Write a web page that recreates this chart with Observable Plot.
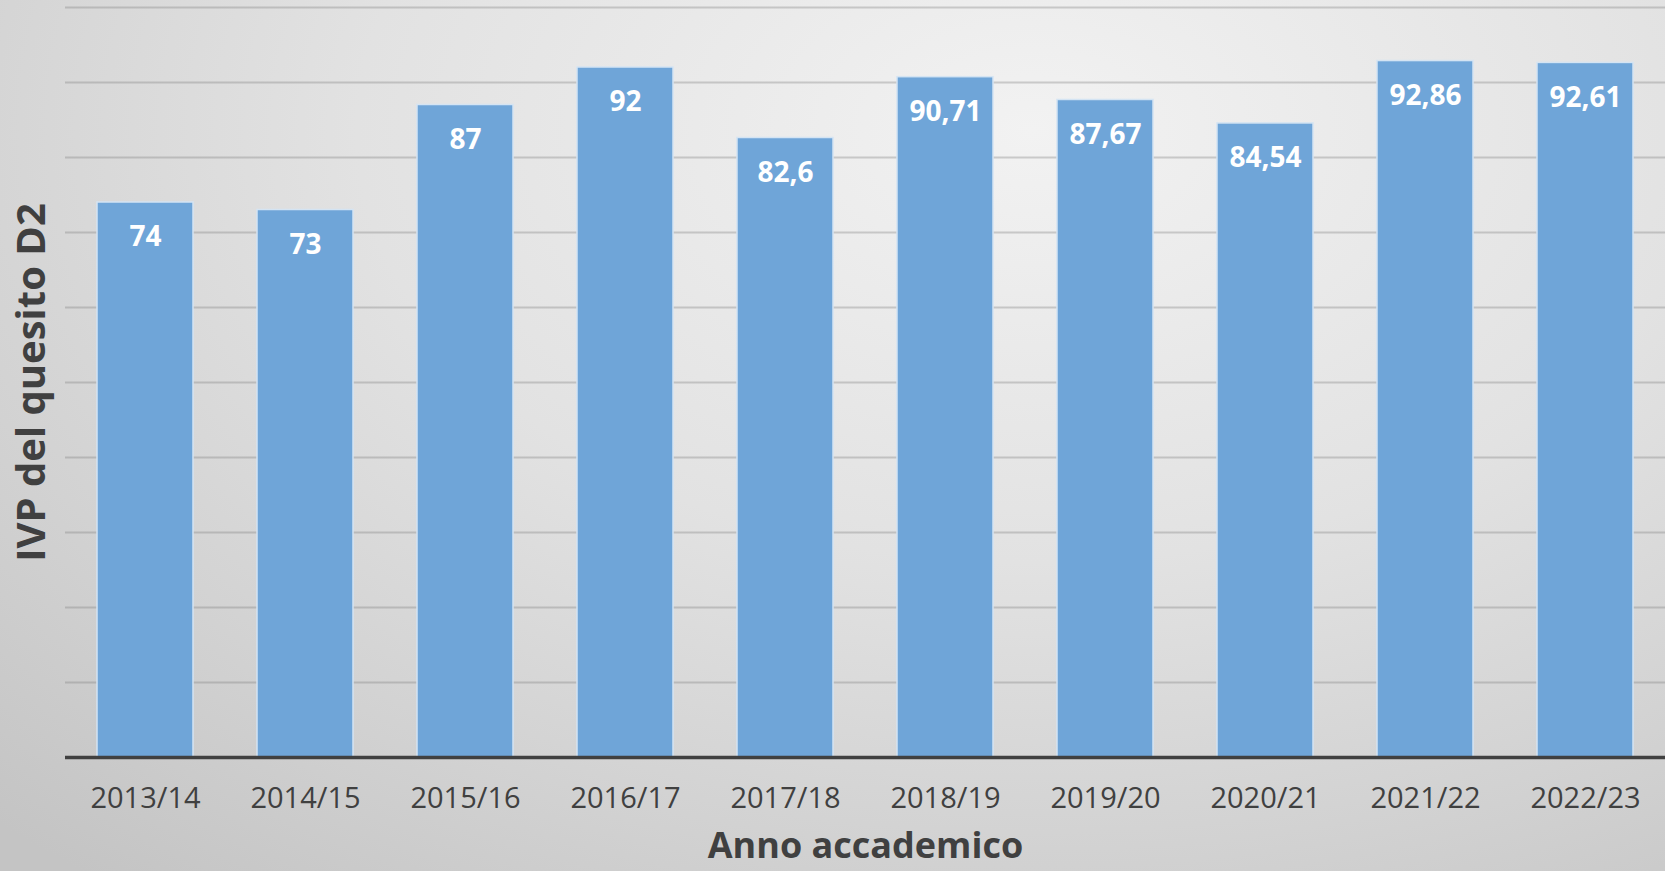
<!DOCTYPE html>
<html>
<head>
<meta charset="utf-8">
<script src="https://cdn.jsdelivr.net/npm/d3@7"></script>
<script src="https://cdn.jsdelivr.net/npm/@observablehq/plot@0.6"></script>
<style>
  html, body { margin: 0; padding: 0; }
  body {
    width: 1665px; height: 871px; overflow: hidden;
    background: radial-gradient(ellipse 90% 110% at 62% 15%, #f2f2f2 0%, #e2e2e2 45%, #d2d2d2 75%, #c4c4c4 100%);
    font-family: "Open Sans", sans-serif;
  }
  #chart svg { display: block; background: transparent; }
</style>
</head>
<body>
<div id="chart"></div>
<script>
const years = ["2013/14","2014/15","2015/16","2016/17","2017/18","2018/19","2019/20","2020/21","2021/22","2022/23"];
const values = [74, 73, 87, 92, 82.6, 90.71, 87.67, 84.54, 92.86, 92.61];
const valueLabels = ["74","73","87","92","82,6","90,71","87,67","84,54","92,86","92,61"];
const gridTicks = [10, 20, 30, 40, 50, 60, 70, 80, 90, 100];
const yTitle = "IVP del quesito D2";
const xTitle = "Anno accademico";

const data = years.map((y, i) => ({year: y, value: values[i], label: valueLabels[i]}));

const chart = Plot.plot({
  width: 1665,
  height: 871,
  marginLeft: 65,
  marginRight: 0,
  marginTop: 7,
  marginBottom: 114,
  style: {background: "transparent", fontFamily: "Open Sans, sans-serif", color: "#404040"},
  x: {domain: years, paddingInner: 0.4, paddingOuter: 0.2, label: null, axis: null},
  y: {domain: [0, 100], label: null, axis: null},
  marks: [
    Plot.gridY(gridTicks, {stroke: "#7a7a7a", strokeOpacity: 0.33, strokeWidth: 2}),
    Plot.barY(data, {x: "year", y: "value", fill: "#6fa5d8", stroke: "#d4e4f3", strokeWidth: 1.5}),
    Plot.text(data, {x: "year", y: "value", text: "label", dy: 35, fill: "white", fontWeight: "bold", fontSize: 28}),
    Plot.ruleY([0], {stroke: "#404040", strokeWidth: 3.5}),
    Plot.axisX({tickSize: 0, tickPadding: 30, fontSize: 29, fill: "#404040", label: null}),
    Plot.text([xTitle], {frameAnchor: "bottom", dy: 100, fontSize: 36, fontWeight: "bold", fill: "#404040"}),
    Plot.text([yTitle], {frameAnchor: "left", textAnchor: "middle", dx: -33, rotate: -90, fontSize: 40, fontWeight: "bold", fill: "#404040"})
  ]
});
document.getElementById("chart").appendChild(chart);
</script>
</body>
</html>
